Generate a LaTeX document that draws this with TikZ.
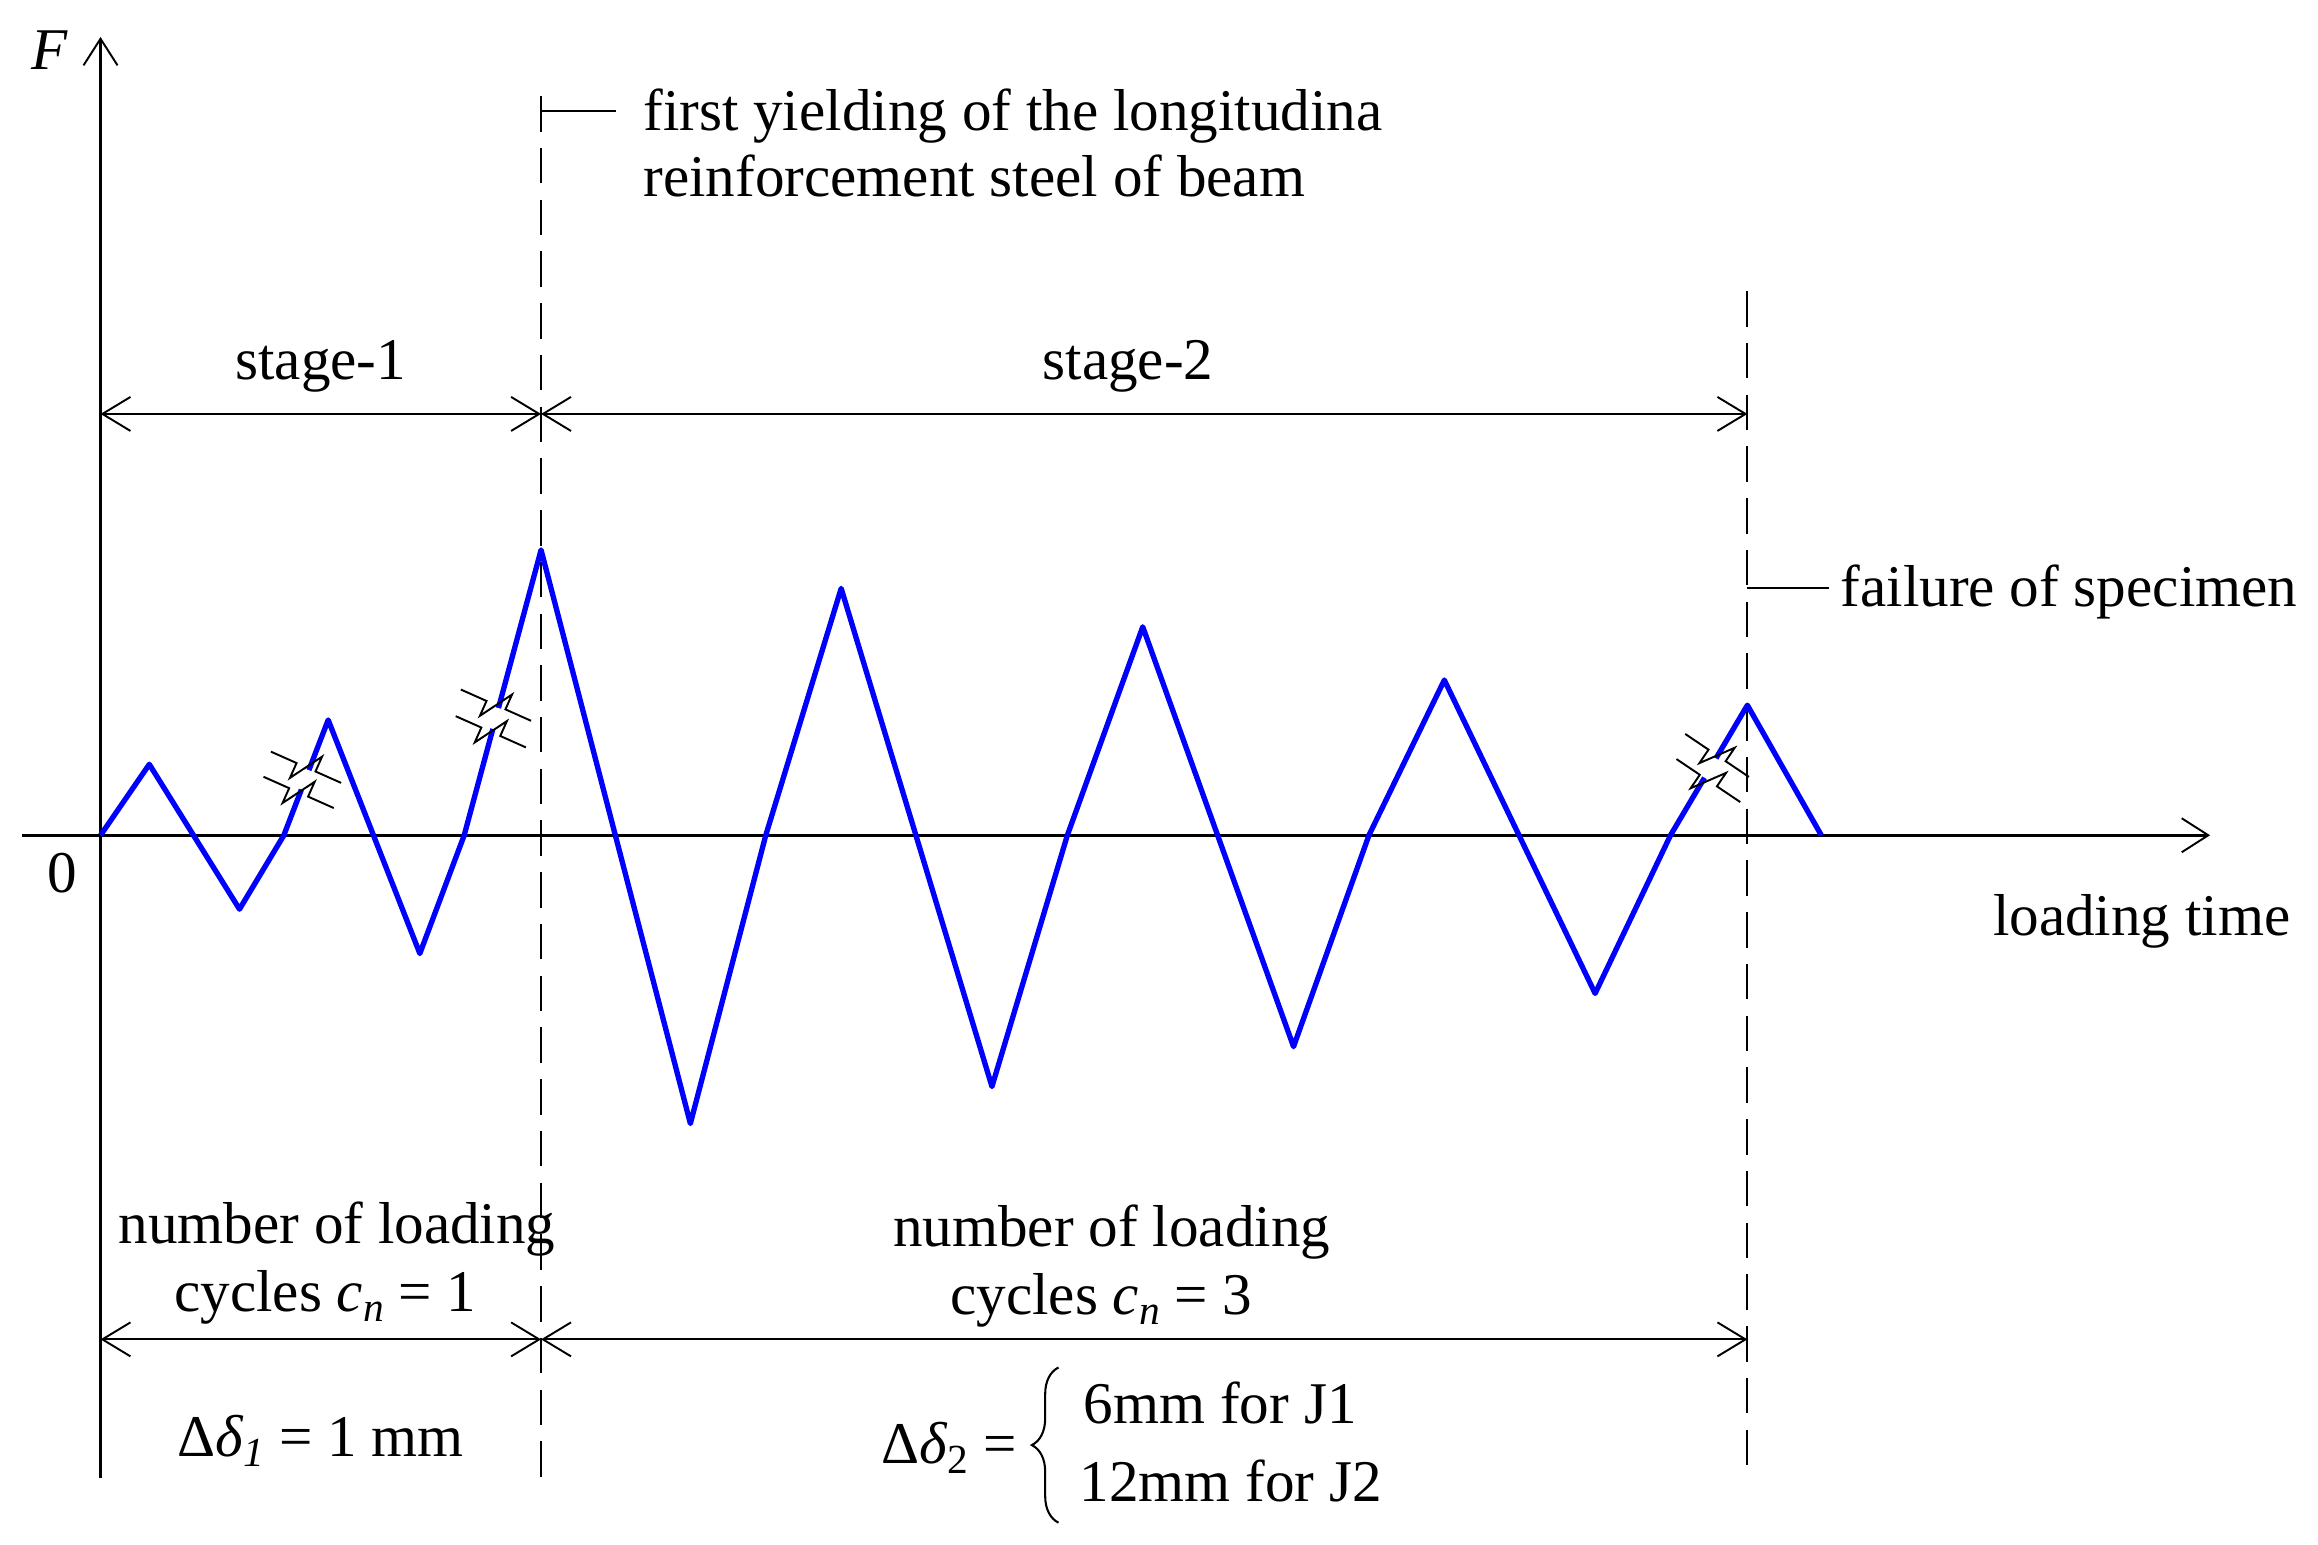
\documentclass[tikz,border=0pt]{standalone}
\usepackage{fontspec}
\setmainfont{Liberation Serif}
\usetikzlibrary{arrows.meta,decorations.pathreplacing}
\newcommand\mysub[1]{\raisebox{-7pt}{\fontsize{28}{28}\selectfont #1}}
\begin{document}
\begin{tikzpicture}[x=1pt,y=-1pt,
  axis/.style={line width=1.7pt, -{Straight Barb[length=18pt,width=23pt,line width=1.3pt]}},
  dim/.style={line width=1.3pt, {Straight Barb[length=19pt,width=23pt]}-{Straight Barb[length=19pt,width=23pt]}},
  dashline/.style={line width=1.4pt, dash pattern=on 24pt off 11pt},
  leader/.style={line width=1.3pt},
  curve/.style={blue, line width=3.6pt, line join=round},
  gap/.style={white, line width=7pt},
  lbl/.style={font=\fontsize{40}{46}\selectfont, inner sep=0pt},
  brk/.pic={\draw[line width=1.3pt] (-26,0) -- (-7,0) -- (-7,11) -- (7,-11) -- (7,0) -- (26,0);}
]
\useasboundingbox (0,0) rectangle (1568,1045);

% axes
\coordinate (yb) at (68,1000); \coordinate (yt) at (68,25);
\coordinate (xl) at (15,565);  \coordinate (xr) at (1495,565);
\draw[axis] (yb) -- (yt);
\draw[axis] (xl) -- (xr);

% dashed verticals
\coordinate (v1t) at (366,65);   \coordinate (v1b) at (366,1000);
\coordinate (v2t) at (1182,197); \coordinate (v2b) at (1182,1000);
\draw[dashline] (v1t) -- (v1b);
\draw[dashline] (v2t) -- (v2b);

% leaders
\coordinate (l1a) at (366,75);  \coordinate (l1b) at (417,75);
\coordinate (l2a) at (1182,398); \coordinate (l2b) at (1237,398);
\draw[leader] (l1a) -- (l1b);
\draw[leader] (l2a) -- (l2b);

% dimension arrows
\coordinate (a0) at (68,280); \coordinate (a1) at (366,280); \coordinate (a2) at (1182,280);
\coordinate (b0) at (68,906); \coordinate (b1) at (366,906); \coordinate (b2) at (1182,906);
\draw[dim] (a0) -- (a1);
\draw[dim] (a1) -- (a2);
\draw[dim] (b0) -- (b1);
\draw[dim] (b1) -- (b2);

% loading curve
\draw[curve] (68,565) -- (101,517) -- (162,615) -- (192,565) -- (222,487) -- (284,645)
  -- (314,565) -- (366,372) -- (467,760) -- (518,565) -- (569,398) -- (671,735)
  -- (722,565) -- (773,424) -- (875,708) -- (926,565) -- (977,460) -- (1079,672)
  -- (1130,565) -- (1182,477) -- (1232,565);

% breaks
\draw[gap] (208.9,521) -- (203.9,534);
\draw[gap] (337.2,479) -- (333.4,493);
\draw[gap] (1160.7,513) -- (1153.0,526);
\pic[rotate=-24] at (207,519) {brk};
\pic[rotate=-24] at (202,536) {brk};
\pic[rotate=-24] at (335.5,477) {brk};
\pic[rotate=-24] at (332,495) {brk};
\pic[rotate=-34] at (1161.5,511) {brk};
\pic[rotate=-34] at (1155.6,528) {brk};

% labels
\node[lbl, anchor=base] (F) at (34,47) {\textit{F}};
\node[lbl, anchor=base] (zero) at (42,604) {0};
\node[lbl, anchor=base west] (lt) at (1348,633) {loading time};
\node[lbl, anchor=base west] (fy1) at (435,88) {first yielding of the longitudina};
\node[lbl, anchor=base west] (fy2) at (435,133) {reinforcement steel of beam};
\node[lbl, anchor=base] (s1) at (217,257) {stage-1};
\node[lbl, anchor=base] (s2) at (763,257) {stage-2};
\node[lbl, anchor=base west] (fail) at (1245,410) {failure of specimen};
\node[lbl, anchor=base] (nl1) at (228,841) {number of loading};
\node[lbl, anchor=base] (cy1) at (220,887) {cycles \textit{c}\mysub{\textit{n}} = 1};
\node[lbl, anchor=base] (nl2) at (752,843) {number of loading};
\node[lbl, anchor=base] (cy2) at (745,889) {cycles \textit{c}\mysub{\textit{n}} = 3};
\node[lbl, anchor=base] (d1) at (217,985) {Δ\textit{δ}\mysub{\textit{1}} = 1 mm};
\node[lbl, anchor=base east] (d2) at (688,990) {Δ\textit{δ}\mysub{2} =};
\node[lbl, anchor=base west] (j1) at (733,963) {6mm for J1};
\node[lbl, anchor=base west] (j2) at (730,1016) {12mm for J2};
\coordinate (brb) at (716,1030); \coordinate (brt) at (716,925);
\draw[line width=1.4pt, decorate, decoration={brace, amplitude=18pt}] (brb) -- (brt);
\end{tikzpicture}
\end{document}
